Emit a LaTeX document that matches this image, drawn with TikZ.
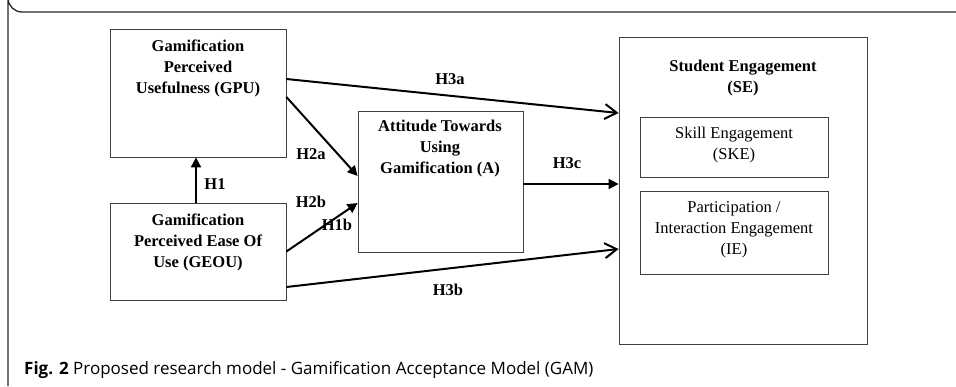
\documentclass[tikz,border=0pt]{standalone}
\usepackage{fontspec}
\setmainfont{Liberation Serif}
\newfontfamily\capfont{Open Sans}
\usetikzlibrary{arrows.meta}
\begin{document}
\begin{tikzpicture}[x=1pt,y=-1pt,
  box/.style={draw=black!75,line width=0.8pt,inner sep=0pt},
  btxt/.style={align=center,inner sep=0pt,font=\bfseries\fontsize{16.5}{21}\selectfont},
  rtxt/.style={align=center,inner sep=0pt,font=\fontsize{16.5}{21}\selectfont},
  hlab/.style={inner sep=0pt,font=\bfseries\fontsize{16.5}{20}\selectfont},
  farrow/.style={line width=2pt,-{Triangle[length=10pt,width=10pt]}},
  oarrow/.style={line width=2pt,-{Straight Barb[length=12pt,width=15pt,line width=2pt]}}]
\useasboundingbox (0,0) rectangle (956,386);
% frame
\draw[line width=1.3pt,black!85] (956,12) -- (22,12) arc[start angle=90,end angle=180,radius=14] -- (8,386);
% boxes
\node[box,minimum width=176,minimum height=128] (gpu) at (198,93) {};
\node[box,minimum width=176,minimum height=97] (geou) at (198,251.5) {};
\node[box,minimum width=165,minimum height=141] (att) at (440.5,181.5) {};
\node[box,minimum width=248,minimum height=307] (se) at (743,190.5) {};
\node[box,minimum width=188,minimum height=60] (ske) at (734,147) {};
\node[box,minimum width=188,minimum height=83] (ie) at (734,232.5) {};
% texts
\node[btxt] (gput) at (198,68) {Gamification\\Perceived\\Usefulness (GPU)};
\node[btxt] (geout) at (198,242) {Gamification\\Perceived Ease Of\\Use (GEOU)};
\node[btxt] (attt) at (440,149) {Attitude Towards\\Using\\Gamification (A)};
\node[btxt] (set) at (743,78) {Student Engagement\\(SE)};
\node[rtxt] (sket) at (734,145.5) {Skill Engagement\\(SKE)};
\node[rtxt] (iet) at (734,229.5) {Participation /\\Interaction Engagement\\(IE)};
% arrows
\draw[oarrow] ([yshift=14pt]gpu.east) -- ([yshift=77.5pt]se.west);
\draw[farrow] ([yshift=-4pt]gpu.east) -- ([yshift=5.5pt]att.west);
\draw[farrow] ([xshift=-2pt]geou.north) -- ([xshift=-2pt]gpu.south);
\draw[farrow] (geou.east) -- ([yshift=-21.5pt]att.west);
\draw[farrow] ([yshift=-2.5pt]att.east) -- ([yshift=-2.5pt]att.east -| se.west);
\draw[oarrow] ([yshift=-35.5pt]geou.east) -- ([yshift=-58.5pt]se.west);
% labels
\node[hlab] (h3a) at (450,79) {H3a};
\node[hlab] (h2a) at (311,154) {H2a};
\node[hlab] (h1) at (215,184) {H1};
\node[hlab] (h2b) at (311,202) {H2b};
\node[hlab] (h1b) at (337,225) {H1b};
\node[hlab] (h3c) at (567,163) {H3c};
\node[hlab] (h3b) at (448,290) {H3b};
% caption
\node[anchor=west,inner sep=0pt,font=\capfont\fontsize{17}{20}\selectfont] (cap) at (24,370) {\textbf{Fig. 2} Proposed research model - Gamification Acceptance Model (GAM)};
\end{tikzpicture}
\end{document}
